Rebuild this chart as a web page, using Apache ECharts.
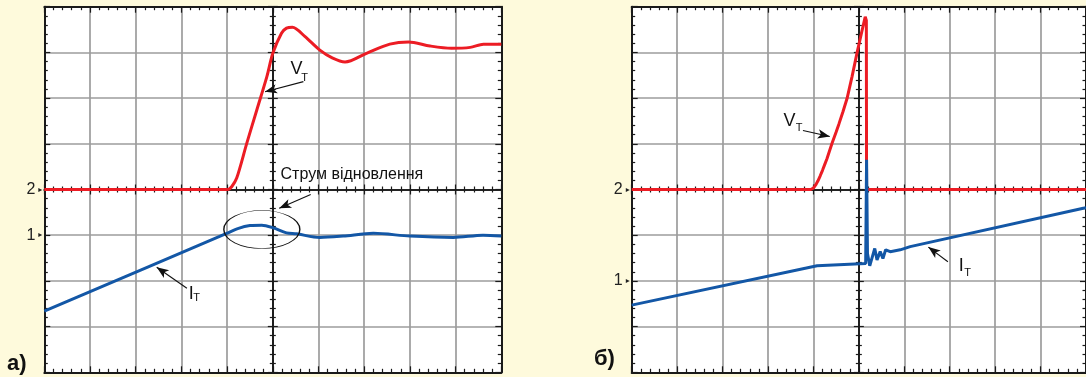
<!DOCTYPE html>
<html>
<head>
<meta charset="utf-8">
<script src="https://cdn.jsdelivr.net/npm/echarts@6/dist/echarts.min.js"></script>
<style>
html,body{margin:0;padding:0;background:#fefadc;}
#c{width:1086px;height:377px;}
</style>
</head>
<body>
<div id="c"></div>
<script>
// Oscilloscope graticule in divisions, centred: x -5..5, y -4..4
// Panel a) traces
const vtA = [[-5,0],[-0.98,0],[-0.9,0.06],[-0.79,0.25],[-0.57,1.01],[-0.35,1.74],[-0.13,2.47],[0,2.98],[0.19,3.42],[0.3,3.53],[0.43,3.55],[0.7,3.35],[1.03,3.05],[1.3,2.88],[1.58,2.79],[2.05,2.98],[2.56,3.18],[2.97,3.23],[3.44,3.14],[3.91,3.09],[4.32,3.11],[4.61,3.18],[5,3.18]];
const itA = [[-5,-2.66],[-1.01,-0.96],[-0.75,-0.85],[-0.5,-0.79],[-0.24,-0.78],[0.01,-0.84],[0.3,-0.95],[0.52,-0.97],[1.03,-1.05],[1.54,-1.02],[2.2,-0.96],[3.0,-1.02],[3.95,-1.05],[4.6,-1.0],[5,-1.02]];
// Panel б) traces
const vtB = [[-5,0],[-1.06,0],[-1.0,0.03],[-0.95,0.1],[-0.9,0.19],[-0.85,0.3],[-0.8,0.42],[-0.75,0.55],[-0.7,0.68],[-0.65,0.83],[-0.59,1.01],[-0.5,1.26],[-0.44,1.43],[-0.35,1.7],[-0.26,1.99],[-0.15,2.47],[-0.04,2.99],[0.05,3.39],[0.14,3.78],[0.165,3.7],[0.17,0],[5,0]];
const itB = [[-5,-2.53],[-0.92,-1.67],[0.15,-1.62],[0.17,0.65],[0.19,-1.4],[0.24,-1.67],[0.35,-1.29],[0.4,-1.54],[0.47,-1.36],[0.53,-1.51],[0.59,-1.32],[0.69,-1.36],[0.91,-1.32],[1.13,-1.25],[4.94,-0.41],[5,-0.4]];
// Channel reference markers (tick labels on the left edge)
const markerValuesA = [0, -1];
const markerValuesB = [0, -2];
const markerTexts = ['2', '1'];
const panelLabels = ['а)', 'б)'];
const recoveryText = 'Струм відновлення';

const F = '"Liberation Sans Narrow","Liberation Sans",Arial,sans-serif';
const FRAME = '#1a1a1a', GRIDC = '#9c9c9c', RED = '#ec1c24', BLUE = '#1357a6', INK = '#111';

function frameAxis(dim, gridIndex, position, opts) {
  const isX = dim === 'x';
  return Object.assign({
    type: 'value', gridIndex: gridIndex, position: position,
    min: isX ? -5 : -4, max: isX ? 5 : 4, interval: 1,
    axisLine: {show: true, onZero: false, lineStyle: {color: FRAME, width: 2}},
    axisTick: {show: true, inside: true, length: 6, lineStyle: {color: FRAME, width: 1.2}},
    minorTick: {show: true, splitNumber: 5, length: 3.5, lineStyle: {color: FRAME, width: 1.2}},
    axisLabel: {show: false},
    splitLine: {show: false}
  }, opts || {});
}
function centreAxis(dim, gridIndex, position) {
  const isX = dim === 'x';
  return {
    type: 'value', gridIndex: gridIndex, position: position, z: 1,
    min: isX ? -5 : -4, max: isX ? 5 : 4, interval: 1,
    axisLine: {show: true, onZero: true, lineStyle: {color: FRAME, width: 1.6}},
    axisTick: {show: true, inside: true, length: 5, lineStyle: {color: FRAME, width: 1.2}},
    minorTick: {show: true, splitNumber: 5, length: 3, lineStyle: {color: FRAME, width: 1.2}},
    axisLabel: {show: false},
    splitLine: {show: false}
  };
}
const split = {show: true, lineStyle: {color: GRIDC, width: 1.7}};
function markerLabel(values) {
  return {
    show: true, margin: 2,
    formatter: function (v) {
      const i = values.indexOf(v);
      return i >= 0 ? '{n|' + markerTexts[i] + '}{t|▸}' : '';
    },
    rich: {
      n: {fontFamily: F, fontSize: 16, color: '#222'},
      t: {fontFamily: 'DejaVu Sans', fontSize: 8, color: '#222', padding: [0, 0, 0, 3]}
    }
  };
}
function txt(coord, text, size) {
  return {
    coord: coord, symbol: 'circle', symbolSize: 0,
    label: {show: true, position: 'right', distance: 0, formatter: text,
            fontFamily: F, fontSize: size, color: INK}
  };
}
function arrow(from, to) {
  return [{coord: from}, {coord: to}];
}
const arrowLine = {
  silent: true, symbol: ['none', 'arrow'], symbolSize: [7, 12],
  lineStyle: {color: INK, width: 1.1, type: 'solid'}, label: {show: false}, animation: false
};

const W = 457, H = 365.6, TOP = 6.7;
const option = {
  animation: false,
  backgroundColor: '#fefadc',
  grid: [
    {left: 44.3, top: TOP, width: W, height: H, show: true, backgroundColor: '#fff', borderWidth: 0},
    {left: 44.3, top: TOP, width: W, height: H},
    {left: 631.7, top: TOP, width: W, height: H, show: true, backgroundColor: '#fff', borderWidth: 0},
    {left: 631.7, top: TOP, width: W, height: H}
  ],
  xAxis: [
    frameAxis('x', 0, 'bottom', {splitLine: split}),
    frameAxis('x', 0, 'top'),
    centreAxis('x', 1, 'bottom'),
    centreAxis('x', 1, 'top'),
    frameAxis('x', 2, 'bottom', {splitLine: split}),
    frameAxis('x', 2, 'top'),
    centreAxis('x', 3, 'bottom'),
    centreAxis('x', 3, 'top')
  ],
  yAxis: [
    frameAxis('y', 0, 'left', {splitLine: split, axisLabel: markerLabel(markerValuesA)}),
    frameAxis('y', 0, 'right'),
    centreAxis('y', 1, 'left'),
    centreAxis('y', 1, 'right'),
    frameAxis('y', 2, 'left', {splitLine: split, axisLabel: markerLabel(markerValuesB)}),
    frameAxis('y', 2, 'right'),
    centreAxis('y', 3, 'left'),
    centreAxis('y', 3, 'right')
  ],
  graphic: [
    {type: 'text', left: 7, top: 353, style: {text: panelLabels[0], font: 'bold 22px "Liberation Sans", Arial', fill: INK}},
    {type: 'text', left: 594, top: 348, style: {text: panelLabels[1], font: 'bold 22px "Liberation Sans", Arial', fill: INK}}
  ],
  series: [
    {
      type: 'line', xAxisIndex: 0, yAxisIndex: 0, data: vtA, showSymbol: false, smooth: 0.3,
      lineStyle: {color: RED, width: 3}, z: 3,
      markPoint: {silent: true, data: [txt([0.39, 2.64], 'V', 18), txt([0.62, 2.45], 'T', 11)]},
      markLine: Object.assign({data: [arrow([0.67, 2.36], [-0.17, 2.14])]}, arrowLine)
    },
    {
      type: 'line', xAxisIndex: 0, yAxisIndex: 0, data: itA, showSymbol: false, smooth: 0.3,
      lineStyle: {color: BLUE, width: 3}, z: 3,
      markPoint: {silent: true, data: [
        txt([-1.84, -2.29], 'I', 18), txt([-1.74, -2.37], 'T', 11),
        txt([0.17, 0.32], recoveryText, 16),
        {coord: [-0.24, -0.875], symbol: 'circle', symbolSize: [76, 38],
         itemStyle: {color: 'rgba(0,0,0,0)', borderColor: INK, borderWidth: 1}, label: {show: false}}
      ]},
      markLine: Object.assign({data: [arrow([-1.88, -2.16], [-2.54, -1.70]), arrow([0.83, -0.11], [0.14, -0.41])]}, arrowLine)
    },
    {
      type: 'line', xAxisIndex: 4, yAxisIndex: 4, data: vtB, showSymbol: false,
      lineStyle: {color: RED, width: 3}, z: 3,
      markPoint: {silent: true, data: [txt([-1.66, 1.49], 'V', 18), txt([-1.39, 1.34], 'T', 11)]},
      markLine: Object.assign({data: [arrow([-1.23, 1.29], [-0.64, 1.16])]}, arrowLine)
    },
    {
      type: 'line', xAxisIndex: 4, yAxisIndex: 4, data: itB, showSymbol: false,
      lineStyle: {color: BLUE, width: 3}, z: 4,
      markPoint: {silent: true, data: [txt([2.2, -1.68], 'I', 18), txt([2.32, -1.82], 'T', 11)]},
      markLine: Object.assign({data: [arrow([1.96, -1.58], [1.53, -1.26])]}, arrowLine)
    }
  ]
};
const chart = echarts.init(document.getElementById('c'));
chart.setOption(option);
</script>
</body>
</html>
